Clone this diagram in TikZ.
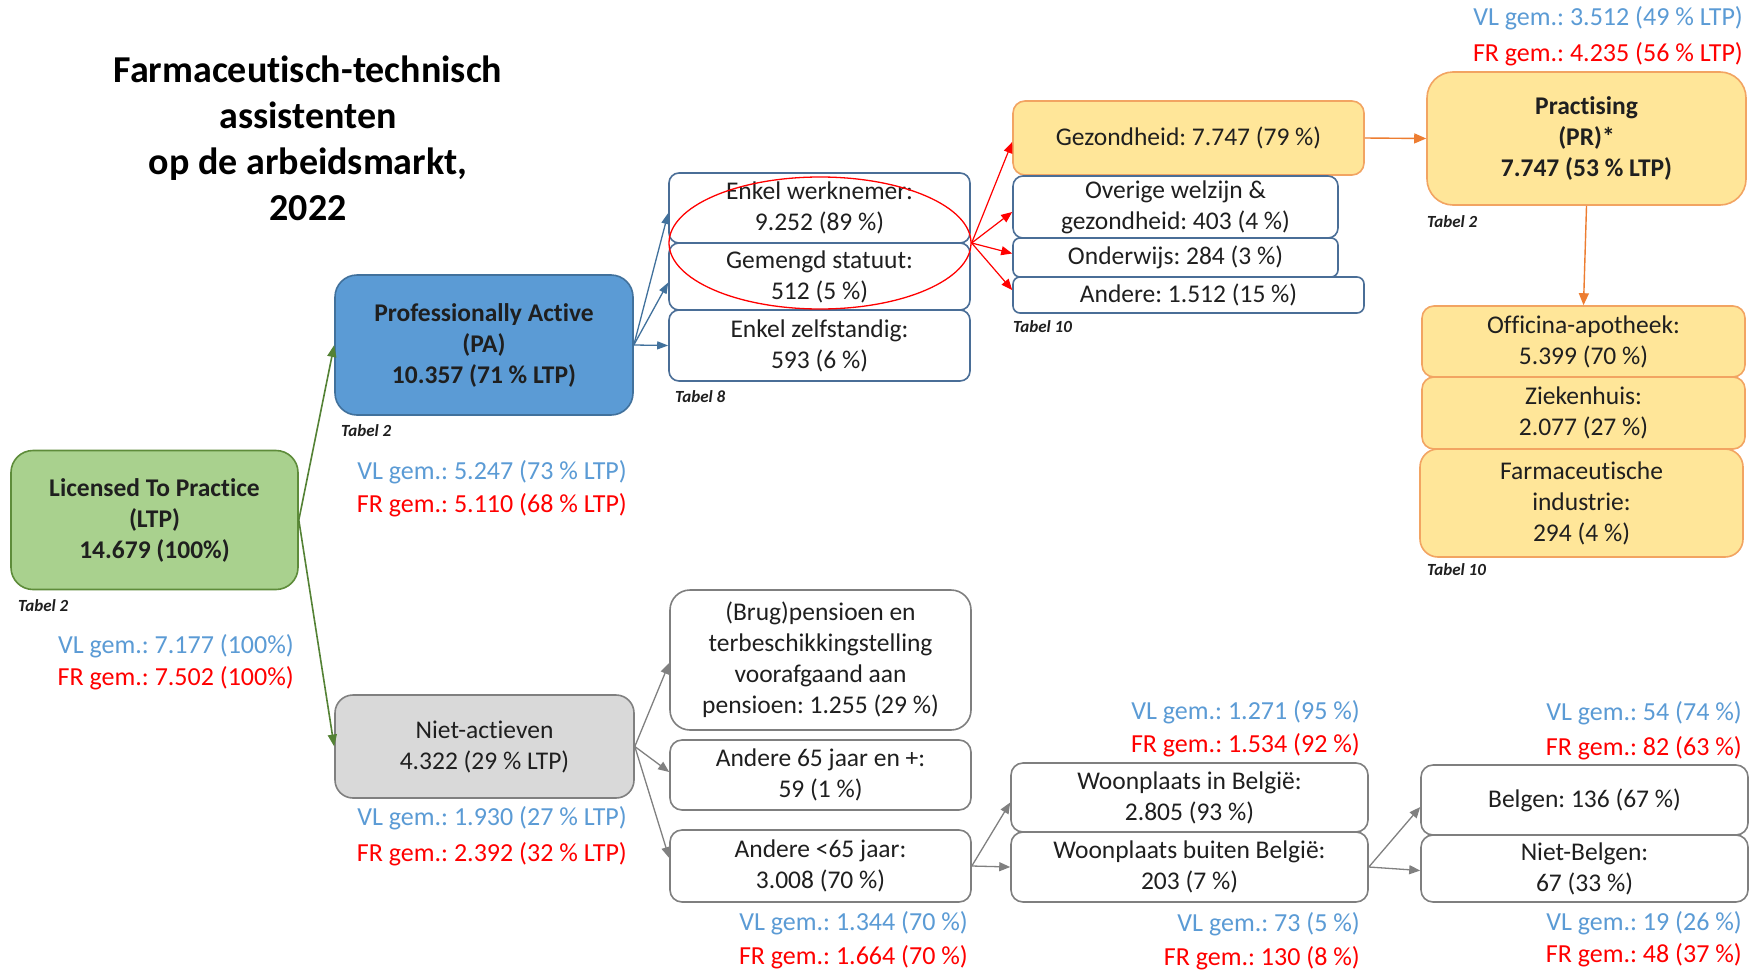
\documentclass[tikz,border=0pt]{standalone}
\usepackage{fontspec}
\setmainfont{Carlito}[Ligatures={NoCommon}]
\usetikzlibrary{arrows.meta,shapes.geometric}
\definecolor{txt}{HTML}{1F1F1F}
\definecolor{vlblue}{HTML}{5B9BD5}
\definecolor{frred}{HTML}{FF0000}
\definecolor{ltpfill}{HTML}{A9D18E}
\definecolor{ltpdraw}{HTML}{5E8C3A}
\definecolor{pafill}{HTML}{5B9BD5}
\definecolor{padraw}{HTML}{41719C}
\definecolor{nafill}{HTML}{D9D9D9}
\definecolor{nadraw}{HTML}{808080}
\definecolor{yfill}{HTML}{FFE699}
\definecolor{ydraw}{HTML}{F2A462}
\definecolor{bdraw}{HTML}{4A6E97}
\definecolor{gdraw}{HTML}{7F7F7F}
\definecolor{agreen}{HTML}{548235}
\definecolor{ablue}{HTML}{41719C}
\definecolor{aorange}{HTML}{ED7D31}
\definecolor{agrey}{HTML}{808080}
\newcommand\bxf{\fontsize{25.5}{31}\selectfont}
\newcommand\lbf{\fontsize{26}{32}\selectfont}
\newcommand\ttlf{\fontsize{38}{46}\selectfont\bfseries}
\newcommand\tbf{\fontsize{17}{20}\selectfont\bfseries\itshape}
\frenchspacing
\begin{document}
\begin{tikzpicture}[x=1pt,y=-1pt,
  base/.style={line width=1.6pt, align=center, inner sep=0pt, font=\bxf, text=txt},
  bbox/.style={base, draw=bdraw, fill=white, rounded corners=10pt},
  gbox/.style={base, draw=gdraw, fill=white, rounded corners=12pt},
  ybox/.style={base, draw=ydraw, fill=yfill, rounded corners=12pt},
  vl/.style={font=\lbf, text=vlblue, anchor=east, inner sep=0pt},
  fr/.style={font=\lbf, text=frred, anchor=east, inner sep=0pt},
  tabel/.style={font=\tbf, text=txt, anchor=west, inner sep=0pt},
  arrg/.style={draw=agreen, line width=1.6pt, -{Triangle[length=12pt,width=9pt]}},
  arrb/.style={draw=ablue, line width=1.3pt, -{Triangle[length=11pt,width=8pt]}},
  arrr/.style={draw=frred, line width=1.2pt, -{Triangle[length=11pt,width=9pt]}},
  arro/.style={draw=aorange, line width=1.4pt, -{Triangle[length=12pt,width=10pt]}},
  arrgr/.style={draw=agrey, line width=1.3pt, -{Triangle[length=11pt,width=9pt]}}
]
\useasboundingbox (0,0) rectangle (1752,969);
\fill[white] (0,0) rectangle (1752,969);

% title
\node[font=\ttlf, text=black, align=center, inner sep=0pt] (title) at (308,138)
  {Farmaceutisch-technisch\\assistenten\\op de arbeidsmarkt,\\2022};

% main boxes
\node[base, draw=ltpdraw, fill=ltpfill, rounded corners=22pt, minimum width=287pt, minimum height=139pt, font=\bxf\bfseries] (ltp) at (154.5,520)
  {Licensed To Practice\\(LTP)\\14.679 (100\%)};
\node[base, draw=padraw, fill=pafill, rounded corners=22pt, minimum width=298pt, minimum height=140pt, font=\bxf\bfseries] (pa) at (484,345)
  {Professionally Active\\(PA)\\10.357 (71 \% LTP)};
\node[base, draw=nadraw, fill=nafill, rounded corners=18pt, minimum width=299pt, minimum height=103pt] (na) at (484.5,746.5)
  {Niet-actieven\\4.322 (29 \% LTP)};

% PA children
\node[bbox, minimum width=301pt, minimum height=70pt] (ew) at (819.5,208) {Enkel werknemer:\\9.252 (89 \%)};
\node[bbox, minimum width=301pt, minimum height=67pt] (gs) at (819.5,276.5) {Gemengd statuut:\\512 (5 \%)};
\node[bbox, minimum width=301pt, minimum height=71pt] (ez) at (819.5,345.5) {Enkel zelfstandig:\\593 (6 \%)};

% sectors
\node[ybox, minimum width=351pt, minimum height=74pt] (gz) at (1188.5,138) {Gezondheid: 7.747 (79 \%)};
\node[bbox, minimum width=325pt, minimum height=62pt] (ow) at (1175.5,207) {Overige welzijn \&\\gezondheid: 403 (4 \%)};
\node[bbox, minimum width=325pt, minimum height=39pt, rounded corners=7pt] (ond) at (1175.5,257.5) {Onderwijs: 284 (3 \%)};
\node[bbox, minimum width=351pt, minimum height=36pt, rounded corners=7pt] (and) at (1188.5,295) {Andere: 1.512 (15 \%)};

% practising
\node[ybox, rounded corners=26pt, minimum width=319pt, minimum height=133pt, font=\bxf\bfseries] (pr) at (1586.5,138.5) {Practising\\(PR)*\\7.747 (53 \% LTP)};
\node[ybox, minimum width=323pt, minimum height=71pt] (off) at (1583.5,341.5) {Officina-apotheek:\\5.399 (70 \%)};
\node[ybox, minimum width=323pt, minimum height=72pt] (zh) at (1583.5,413) {Ziekenhuis:\\2.077 (27 \%)};
\node[ybox, rounded corners=18pt, minimum width=323pt, minimum height=108pt] (fi) at (1581.5,503) {Farmaceutische\\industrie:\\294 (4 \%)};

% niet-actieven children
\node[gbox, rounded corners=20pt, minimum width=301pt, minimum height=140pt] (brug) at (820.5,660) {(Brug)pensioen en\\terbeschikkingstelling\\voorafgaand aan\\pensioen: 1.255 (29 \%)};
\node[gbox, minimum width=301pt, minimum height=70pt] (a65) at (820.5,775) {Andere 65 jaar en +:\\59 (1 \%)};
\node[gbox, minimum width=301pt, minimum height=72pt] (a65l) at (820.5,866) {Andere <65 jaar:\\3.008 (70 \%)};

\node[gbox, minimum width=357pt, minimum height=69pt] (wib) at (1189.5,797.5) {Woonplaats in België:\\2.805 (93 \%)};
\node[gbox, minimum width=357pt, minimum height=70pt] (wbb) at (1189.5,867) {Woonplaats buiten België:\\203 (7 \%)};

\node[gbox, minimum width=327pt, minimum height=70pt] (bel) at (1584.5,800) {Belgen: 136 (67 \%)};
\node[gbox, minimum width=327pt, minimum height=67pt] (nbel) at (1584.5,868.5) {Niet-Belgen:\\67 (33 \%)};

% ellipse
\node[draw=frred, line width=1.3pt, ellipse, minimum width=302pt, minimum height=132pt, inner sep=0pt] (ell) at (820,243) {};

% arrows
\draw[arrg] (ltp.east) -- (pa.west);
\draw[arrg] (ltp.east) -- (na.west);
\draw[arrb] (pa.east) -- ([yshift=-5pt]ew.west);
\draw[arrb] (pa.east) -- ([yshift=-6pt]gs.west);
\draw[arrb] (pa.east) -- (ez.west);
\draw[arrr] (ell.east) -- ([yshift=-4pt]gz.west);
\draw[arrr] (ell.east) -- ([yshift=-5pt]ow.west);
\draw[arrr] (ell.east) -- ([yshift=4pt]ond.west);
\draw[arrr] (ell.east) -- ([yshift=5pt]and.west);
\draw[arro] (gz.east) -- (pr.west);
\draw[arro] (pr.south) -- (off.north);
\draw[arrgr] (na.east) -- ([yshift=-3pt]brug.west);
\draw[arrgr] (na.east) -- ([yshift=3pt]a65.west);
\draw[arrgr] (na.east) -- ([yshift=8pt]a65l.west);
\draw[arrgr] (a65l.east) -- ([yshift=-5pt]wib.west);
\draw[arrgr] (a65l.east) -- (wbb.west);
\draw[arrgr] (wbb.east) -- ([yshift=-7pt]bel.west);
\draw[arrgr] (wbb.east) -- ([yshift=-2pt]nbel.west);

% tabel labels
\node[tabel] (t1) at (18,606) {Tabel 2};
\node[tabel] (t2) at (341,431) {Tabel 2};
\node[tabel] (t3) at (675,397) {Tabel 8};
\node[tabel] (t4) at (1013,327) {Tabel 10};
\node[tabel] (t5) at (1427,222) {Tabel 2};
\node[tabel] (t6) at (1427,570) {Tabel 10};

% VL / FR labels
\node[vl] (vl1) at (294,646) {VL gem.: 7.177 (100\%)};
\node[fr] (fr1) at (294,678) {FR gem.: 7.502 (100\%)};
\node[vl] (vl2) at (627,472) {VL gem.: 5.247 (73 \% LTP)};
\node[fr] (fr2) at (627,505) {FR gem.: 5.110 (68 \% LTP)};
\node[vl] (vl3) at (627,818) {VL gem.: 1.930 (27 \% LTP)};
\node[fr] (fr3) at (627,854) {FR gem.: 2.392 (32 \% LTP)};
\node[vl] (vl4) at (968,923) {VL gem.: 1.344 (70 \%)};
\node[fr] (fr4) at (968,957) {FR gem.: 1.664 (70 \%)};
\node[vl] (vl5) at (1360,712) {VL gem.: 1.271 (95 \%)};
\node[fr] (fr5) at (1360,745) {FR gem.: 1.534 (92 \%)};
\node[vl] (vl6) at (1360,924) {VL gem.: 73 (5 \%)};
\node[fr] (fr6) at (1360,958) {FR gem.: 130 (8 \%)};
\node[vl] (vl7) at (1742,713) {VL gem.: 54 (74 \%)};
\node[fr] (fr7) at (1742,748) {FR gem.: 82 (63 \%)};
\node[vl] (vl8) at (1742,923) {VL gem.: 19 (26 \%)};
\node[fr] (fr8) at (1742,955) {FR gem.: 48 (37 \%)};
\node[vl] (vl9) at (1743,18) {VL gem.: 3.512 (49 \% LTP)};
\node[fr] (fr9) at (1743,54) {FR gem.: 4.235 (56 \% LTP)};
\end{tikzpicture}
\end{document}
